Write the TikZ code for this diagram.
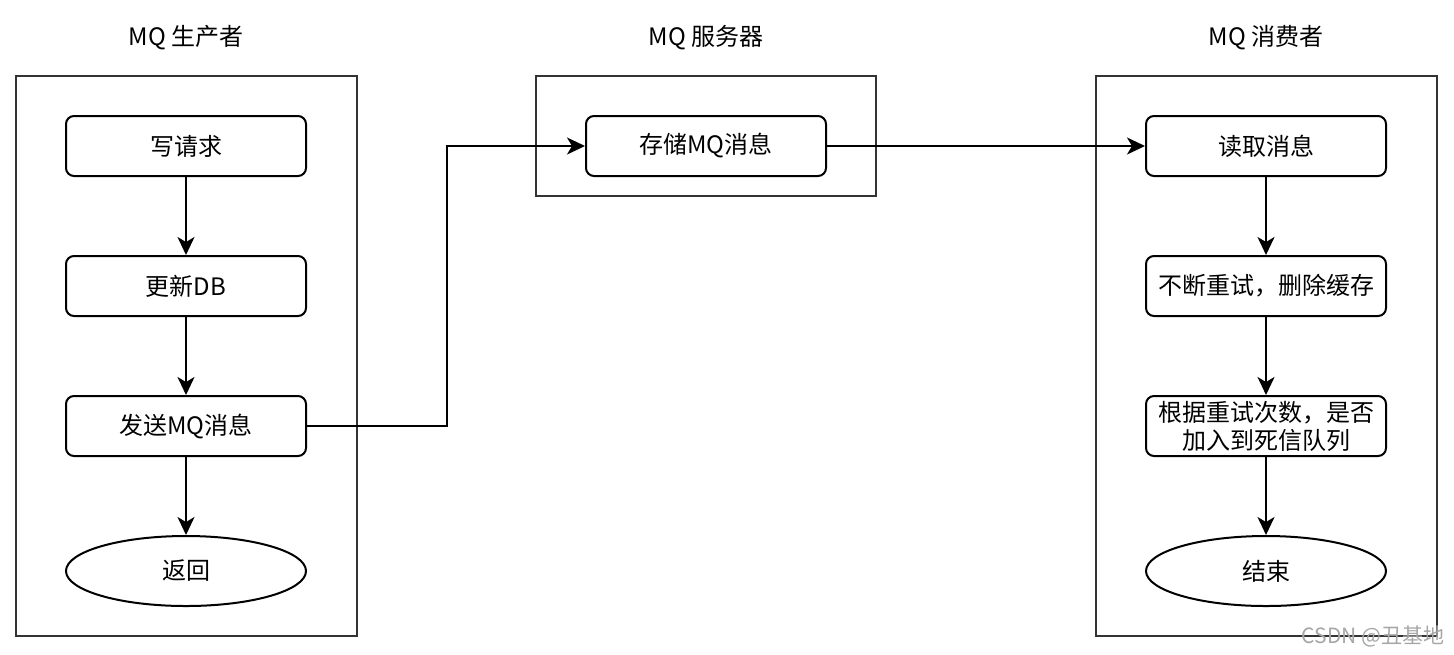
\documentclass[tikz,border=0pt]{standalone}
\usepackage{fontspec}
\setmainfont{Noto Sans CJK SC}
\usetikzlibrary{arrows.meta,shapes.geometric}
\begin{document}
\begin{tikzpicture}[x=0.5pt,y=-0.5pt,
  font=\fontsize{12}{14}\selectfont,
  frame/.style={draw=black!80, line width=1pt, inner sep=0pt, rectangle},
  proc/.style={draw, line width=1pt, rounded corners=4pt, minimum width=120pt, minimum height=30pt, inner sep=0pt, align=center},
  term/.style={draw, ellipse, line width=1pt, minimum width=120pt, minimum height=35pt, inner sep=0pt},
  arr/.style={line width=1pt, -{Stealth[length=9pt,width=8.5pt,inset=2.5pt]}},
  ttl/.style={font=\fontsize{12}{14}\selectfont},
  wm/.style={font=\fontsize{10.5}{12}\selectfont, text=black!35}]
\useasboundingbox (0,0) rectangle (1454,654);
% frames
\node[frame, minimum width=170.5pt, minimum height=280pt] (pf) at (186.5,356) {};
\node[frame, minimum width=170pt, minimum height=60pt] (sf) at (706,136) {};
\node[frame, minimum width=170.5pt, minimum height=280pt] (cf) at (1266.5,356) {};
% titles
\node[ttl] (pt) at (186,38) {MQ 生产者};
\node[ttl] (st) at (706,38) {MQ 服务器};
\node[ttl] (ct) at (1266,38) {MQ 消费者};
% producer
\node[proc] (w) at (186,146) {写请求};
\node[proc] (u) at (186,286) {更新DB};
\node[proc] (s) at (186,426) {发送MQ消息};
\node[term] (r) at (186,571) {返回};
% server
\node[proc] (m) at (706,146) {存储MQ消息};
% consumer
\node[proc] (rd) at (1266,146) {读取消息};
\node[proc] (re) at (1266,286) {不断重试，删除缓存};
\node[proc] (dl) at (1266,426) {根据重试次数，是否\\加入到死信队列};
\node[term] (e) at (1266,571) {结束};
% connectors
\draw[arr] (w) -- (u);
\draw[arr] (u) -- (s);
\draw[arr] (s) -- (r);
\draw[arr] (s.east) -- ++(140,0) |- (m.west);
\draw[arr] (m.east) -- (rd.west);
\draw[arr] (rd) -- (re);
\draw[arr] (re) -- (dl);
\draw[arr] (dl) -- (e);
% watermark
\node[wm] (wmk) at (1373,636) {CSDN @丑基地};
\end{tikzpicture}
\end{document}
